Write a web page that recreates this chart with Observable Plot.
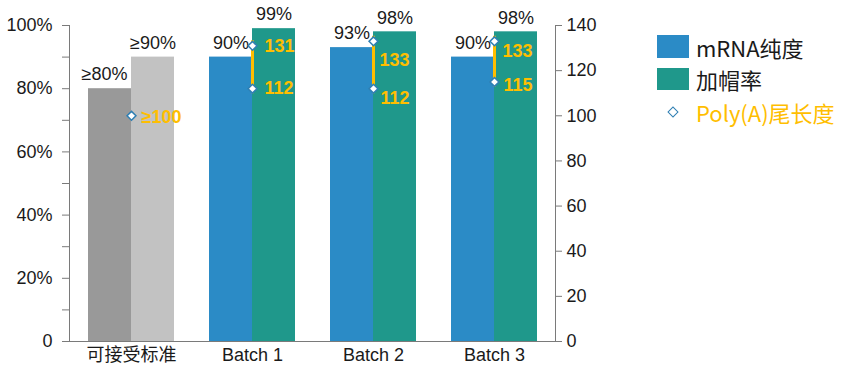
<!DOCTYPE html>
<html><head><meta charset="utf-8">
<script src="https://cdn.jsdelivr.net/npm/d3@7"></script>
<script src="https://cdn.jsdelivr.net/npm/@observablehq/plot@0.6"></script>
<style>
body{margin:0;background:#fff;}
#wrap{position:relative;width:843px;height:371px;overflow:hidden;}
#wrap svg{position:absolute;left:0;top:0;}
.lg{position:absolute;font-family:"Noto Sans CJK SC","Noto Sans",sans-serif;font-size:22px;line-height:1;color:#1a1a1a;white-space:nowrap;}
.sw{position:absolute;width:32px;height:23px;}
</style></head><body><div id="wrap"></div>
<script>
// ---- data ----
const categories = ["可接受标准", "Batch 1", "Batch 2", "Batch 3"];
const purity = [80, 90, 93, 90];
const capping = [90, 99, 98, 98];
const purityLabels = ["≥80%", "90%", "93%", "90%"];
const cappingLabels = ["≥90%", "99%", "98%", "98%"];
const polyLow = [100, 112, 112, 115];
const polyHigh = [null, 131, 133, 133];
const polyLowLabels = ["≥100", "112", "112", "115"];
const polyHighLabels = [null, "131", "133", "133"];
const leftTicks = [0, 20, 40, 60, 80, 100];
const leftMinorTicks = [10, 30, 50, 70, 90];
const rightTicks = [0, 20, 40, 60, 80, 100, 120, 140];
const legendLabels = ["mRNA纯度", "加帽率", "Poly(A)尾长度"];

// ---- build ----
const RMAX = 140;
const toLeft = v => v * 100 / RMAX;
const rows = categories.map((c, i) => ({i, cat: c, purity: purity[i], capping: capping[i], pl: purityLabels[i], cl: cappingLabels[i], lo: polyLow[i], hi: polyHigh[i]}));
const pts = [];
categories.forEach((c, i) => {
  pts.push({i, cat: c, v: polyLow[i], t: polyLowLabels[i], k: "lo"});
  if (polyHigh[i] != null) pts.push({i, cat: c, v: polyHigh[i], t: polyHighLabels[i], k: "hi"});
});
// label nudges (dx, dy) so the labels sit as in the original
const nudge = {"0lo": [10, 1], "1lo": [12, 0], "1hi": [12, 0], "2lo": [7, 10], "2hi": [6, 19], "3lo": [9, 3], "3hi": [8, 10]};

const BLUE = "#2b8bc6", TEAL = "#1f988b", DGREY = "#999999", LGREY = "#c2c2c2", GOLD = "#ffbe00", AX = "#7a7a7a";
const fillA = d => d.i === 0 ? DGREY : BLUE;
const fillB = d => d.i === 0 ? LGREY : TEAL;

const polyTextMarks = pts.map(p => {
  const [dx, dy] = nudge[p.i + p.k];
  return Plot.text([p], {x: "cat", y: d => toLeft(d.v), text: "t", textAnchor: "start", fill: GOLD, fontWeight: "bold", dx, dy});
});

const chart = Plot.plot({
  width: 843, height: 371,
  marginLeft: 69, marginRight: 288, marginTop: 25, marginBottom: 30,
  style: {fontFamily: "'Liberation Sans', Arial, 'Noto Sans CJK SC', sans-serif", fontSize: "18px", color: "#1a1a1a", background: "transparent"},
  x: {domain: categories, paddingInner: 0.292, paddingOuter: 0.146},
  y: {domain: [0, 100]},
  marks: [
    Plot.barY(rows, {x: "cat", y: "purity", fill: fillA, insetRight: 43}),
    Plot.barY(rows, {x: "cat", y: "capping", fill: fillB, insetLeft: 43}),
    Plot.text(rows.filter(d => d.i === 0), {x: "cat", y: "purity", text: "pl", dx: -27, dy: -14, fill: "#1a1a1a"}),
    Plot.text(rows.filter(d => d.i !== 0), {x: "cat", y: "purity", text: "pl", dx: -21.5, dy: -14, fill: "#1a1a1a"}),
    Plot.text(rows, {x: "cat", y: "capping", text: "cl", dx: 21.5, dy: -14, fill: "#1a1a1a"}),
    Plot.ruleX(rows.filter(d => d.hi != null), {x: "cat", y1: d => toLeft(d.lo), y2: d => toLeft(d.hi), stroke: GOLD, strokeWidth: 3, insetTop: 5, insetBottom: 5}),
    Plot.dot(pts, {x: "cat", y: d => toLeft(d.v), symbol: "diamond2", r: 4, fill: "white", stroke: "#2f7fb3", strokeWidth: 1.5}),
    ...polyTextMarks,
    Plot.axisY({ticks: leftTicks, tickFormat: d => d === 0 ? "0" : d + "%", anchor: "left", tickSize: 7, tickPadding: 10, stroke: AX, label: null}),
    Plot.axisY({ticks: leftMinorTicks, tickFormat: () => "", anchor: "left", tickSize: 7, stroke: AX, label: null}),
    Plot.axisY({ticks: rightTicks.map(toLeft), tickFormat: d => String(Math.round(d * RMAX / 100)), anchor: "right", tickSize: 6, tickPadding: 5, stroke: AX, label: null}),
    Plot.axisX({anchor: "bottom", tickSize: 0, tickPadding: 7, label: null}),
    Plot.frame({anchor: "left", stroke: AX}),
    Plot.frame({anchor: "right", stroke: AX}),
    Plot.frame({anchor: "bottom", stroke: AX})
  ]
});
const wrap = document.getElementById("wrap");
wrap.appendChild(chart);

// legend
const addDiv = (cls, style, text) => { const d = document.createElement("div"); d.className = cls; Object.assign(d.style, style); if (text) d.textContent = text; wrap.appendChild(d); return d; };
addDiv("sw", {left: "657px", top: "35px", background: BLUE});
addDiv("sw", {left: "657px", top: "68px", height: "22px", background: TEAL});
addDiv("lg", {left: "696px", top: "36px"}, legendLabels[0]);
addDiv("lg", {left: "696px", top: "68px"}, legendLabels[1]);
addDiv("", {position: "absolute", left: "669px", top: "108px", width: "6px", height: "6px", border: "1.5px solid #2f7fb3", background: "#fff", transform: "rotate(45deg)"});
addDiv("lg", {left: "696px", top: "101px", color: GOLD}, legendLabels[2]);
</script>
</body></html>
